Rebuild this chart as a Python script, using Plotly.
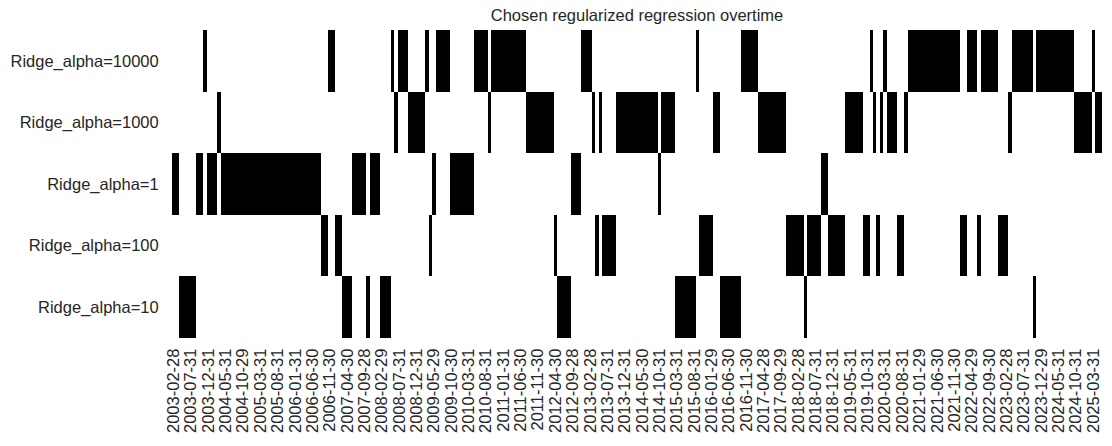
import pandas as pd
import plotly.graph_objects as go

# Row labels, top to bottom as shown in the chart
models = ["Ridge_alpha=10000", "Ridge_alpha=1000", "Ridge_alpha=1",
          "Ridge_alpha=100", "Ridge_alpha=10"]

# Chosen model per month, stored as consecutive runs (alpha value, number of months)
run_alpha = [1, 10, 1, 10000, 1, 1000, 1, 100, 10000, 100, 10, 1, 10, 1, 10,
             10000, 1000, 10000, 1000, 10000, 100, 1, 10000, 1, 10000, 1000,
             10000, 1000, 100, 10, 1, 10000, 1000, 100, 1000, 100, 1000, 1,
             1000, 10, 10000, 100, 1000, 10, 10000, 1000, 100, 10, 100, 1, 100,
             1000, 100, 10000, 1000, 100, 1000, 10000, 1000, 100, 1000, 10000,
             100, 10000, 100, 10000, 100, 1000, 10000, 10, 10000, 1000, 10000,
             1000]
run_months = [2, 5, 2, 1, 3, 1, 29, 2, 2, 2, 3, 4, 1, 3, 3,
              1, 1, 3, 5, 1, 1, 1, 4, 7, 4, 1,
              10, 8, 1, 4, 3, 3, 1, 1, 1, 4, 12, 1,
              4, 6, 1, 4, 2, 6, 5, 8, 5, 1, 4, 2, 5,
              5, 2, 1, 1, 1, 1, 1, 3, 2, 1, 15,
              2, 3, 1, 5, 3, 1, 6, 1, 11, 5, 1,
              2]

first_date = "2003-02-28"
n_months = sum(run_months)
try:
    dates = pd.date_range(first_date, periods=n_months, freq="BME")
except Exception:
    dates = pd.date_range(first_date, periods=n_months, freq="BM")
date_labels = [d.strftime("%Y-%m-%d") for d in dates]
tick_step = 5
tick_labels = date_labels[::tick_step]

# Build the one-hot matrix from the runs
chosen = []
for a, n in zip(run_alpha, run_months):
    chosen += [f"Ridge_alpha={a}"] * n
z = [[1 if c == m else 0 for c in chosen] for m in models]

fig = go.Figure(go.Heatmap(
    z=z, x=date_labels, y=models,
    colorscale=[[0, "white"], [1, "black"]],
    showscale=False, xgap=0, ygap=0, hoverinfo="x+y",
))

font_family = "Liberation Sans, Arial, sans-serif"
txt = "#262626"
fig.update_layout(
    width=1112, height=446,
    margin=dict(l=172, r=10, t=30, b=108, autoexpand=False),
    paper_bgcolor="white", plot_bgcolor="white",
    font=dict(family=font_family, size=16.5, color=txt),
    title=dict(text="Chosen regularized regression overtime",
               x=0.5, xref="paper", xanchor="center",
               y=1 - 15 / 446, yref="container", yanchor="middle",
               font=dict(size=16.5, color=txt), automargin=False),
)
fig.update_xaxes(type="category", tickmode="array",
                 tickvals=tick_labels, ticktext=tick_labels,
                 tickangle=-90, showgrid=False, zeroline=False,
                 ticks="outside", ticklen=3, tickcolor="white",
                 tickfont=dict(size=16.5, color=txt), showline=False,
                 automargin=False)
fig.update_yaxes(autorange="reversed", showgrid=False, zeroline=False,
                 ticks="outside", ticklen=9, tickcolor="white",
                 tickfont=dict(size=16.5, color=txt), showline=False,
                 automargin=False)

fig.write_html("out.html",
               config={"displayModeBar": False},
               post_script="document.body.style.margin='0';"
                           "document.body.style.overflow='hidden';")
